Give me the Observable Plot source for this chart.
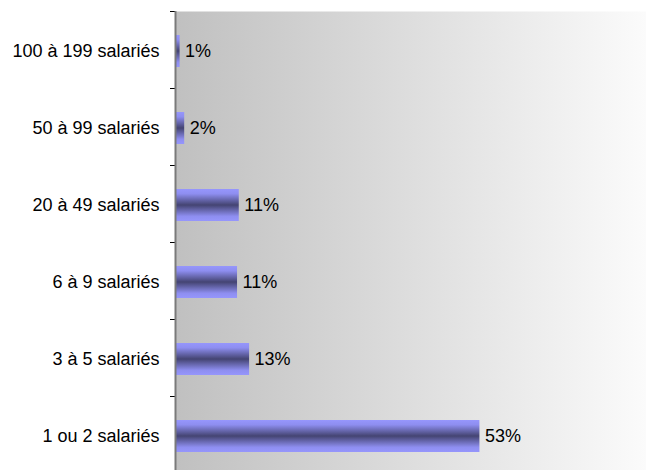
<!DOCTYPE html>
<html><head><meta charset="utf-8">
<script src="https://cdn.jsdelivr.net/npm/d3@7"></script>
<script src="https://cdn.jsdelivr.net/npm/@observablehq/plot@0.6"></script>
<style>body{margin:0;background:#fff;} #chart svg{display:block;}</style>
</head><body><div id="chart"></div>
<script>
const categories = ["100 à 199 salariés","50 à 99 salariés","20 à 49 salariés","6 à 9 salariés","3 à 5 salariés","1 ou 2 salariés"];
const values = [0.8, 1.6, 11.1, 10.8, 12.9, 53.0];
const valueLabels = ["1%","2%","11%","11%","13%","53%"];
const data = categories.map((c, i) => ({category: c, value: values[i], label: valueLabels[i]}));

function gradients() {
  const defs = d3.create("svg:defs");
  const bg = defs.append("linearGradient").attr("id", "bgGrad")
    .attr("x1", 0).attr("y1", 0).attr("x2", 1).attr("y2", 0);
  bg.append("stop").attr("offset", 0).attr("stop-color", "#c0c0c0");
  bg.append("stop").attr("offset", 1).attr("stop-color", "#fbfbfb");
  const bar = defs.append("linearGradient").attr("id", "barGrad")
    .attr("x1", 0).attr("y1", 0).attr("x2", 0).attr("y2", 1);
  [[0, "#9696fc"], [0.15, "#8e8ef0"], [0.5, "#444472"], [0.85, "#8e8ef0"], [1, "#9696fc"]]
    .forEach(([o, c]) => bar.append("stop").attr("offset", o).attr("stop-color", c));
  return defs.node();
}

const chart = Plot.plot({
  width: 646,
  height: 470,
  marginLeft: 175,
  marginRight: 0,
  marginTop: 11,
  marginBottom: 0,
  style: {fontFamily: "'Liberation Sans', Arial, sans-serif", fontSize: "18px", color: "black", background: "white"},
  x: {domain: [0, 82], axis: null},
  y: {domain: categories, range: [12.5, 474.5], paddingInner: 0.584, paddingOuter: 0.292, label: null},
  marks: [
    gradients,
    Plot.frame({fill: "url(#bgGrad)", stroke: null}),
    Plot.barX(data, {x: "value", y: "category", fill: "url(#barGrad)"}),
    Plot.text(data, {x: "value", y: "category", text: "label", dx: 5, textAnchor: "start", fontSize: 18, fill: "black"}),
    Plot.axisY({tickSize: 0, tickPadding: 16, fontSize: 18, fill: "black", label: null}),
    Plot.axisY({tickSize: 5, tickFormat: () => "", dy: -40, stroke: "black", label: null}),
    Plot.ruleX([0], {stroke: "#7a7a7a", strokeWidth: 2})
  ]
});
document.getElementById("chart").appendChild(chart);
</script>
</body></html>
